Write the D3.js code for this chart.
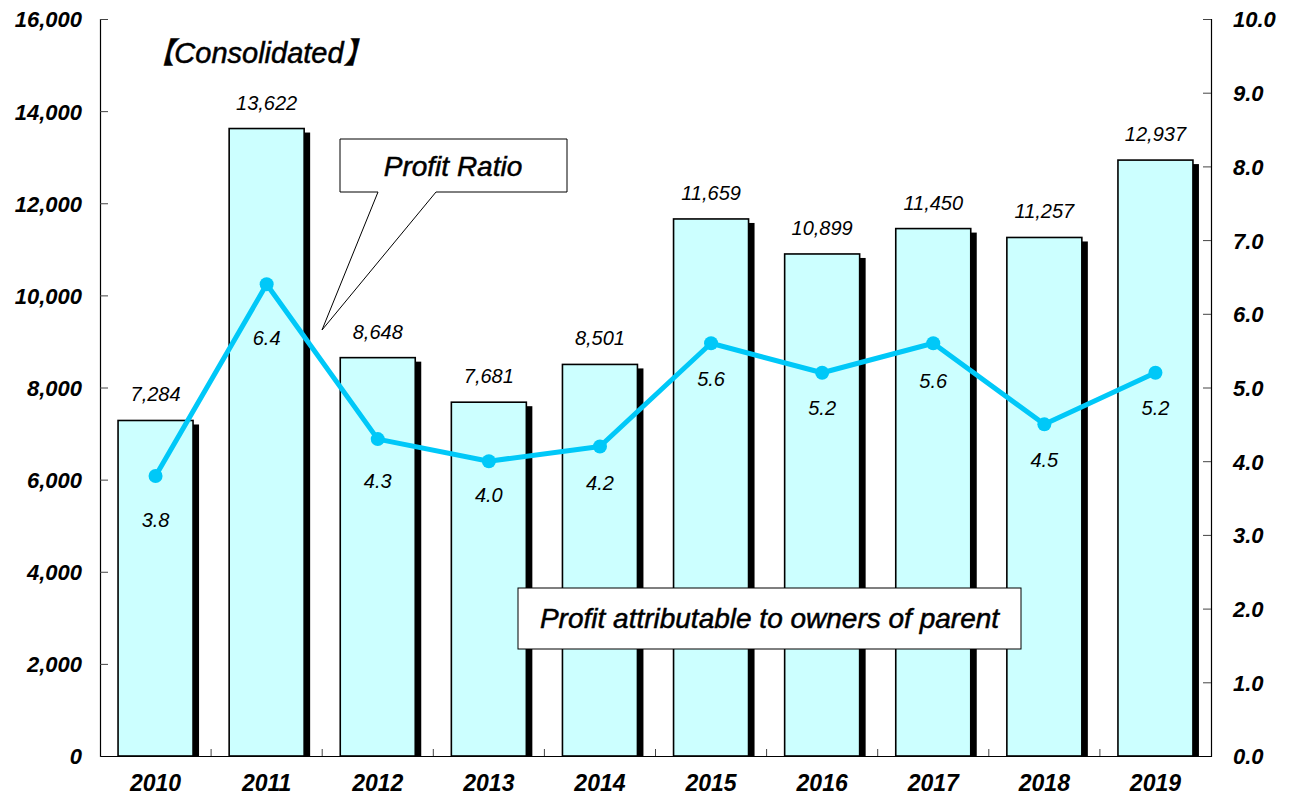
<!DOCTYPE html>
<html>
<head>
<meta charset="utf-8">
<script src="https://cdn.jsdelivr.net/npm/d3@7"></script>
<style>
  html, body { margin: 0; padding: 0; background: #fff; }
  svg { display: block; }
  text { font-family: "Liberation Sans", Arial, "Noto Sans CJK JP", sans-serif; }
</style>
</head>
<body>
<svg id="chart" width="1292" height="798"></svg>
<script>
// ---- data ----
const years = ["2010","2011","2012","2013","2014","2015","2016","2017","2018","2019"];
const profit = [7284, 13622, 8648, 7681, 8501, 11659, 10899, 11450, 11257, 12937];
const ratio = [3.8, 6.4, 4.3, 4.0, 4.2, 5.6, 5.2, 5.6, 4.5, 5.2];
const leftTicks = [0, 2000, 4000, 6000, 8000, 10000, 12000, 14000, 16000];
const rightTicks = [0, 1, 2, 3, 4, 5, 6, 7, 8, 9, 10];
const titleText = "【Consolidated】";
const ratioLegend = "Profit Ratio";
const profitLegend = "Profit attributable to owners of parent";

// label vertical shifts for ratio labels (px below point)
const ratioLabelShift = [44, 53, 42, 34, 36, 36, 35, 38, 35, 35];

const svg = d3.select("#chart");
const L = 100, R = 1211, T = 19, B = 756;

const x = d3.scaleBand().domain(years).range([L, R]).paddingInner(0).paddingOuter(0);
const yL = d3.scaleLinear().domain([0, 16000]).range([B, T]);
const yR = d3.scaleLinear().domain([0, 10]).range([B, T]);
const barW = x.bandwidth() * 0.675;
const fmt = d3.format(",");

// bars: shadows then bars
const g = svg.append("g");
g.selectAll("rect.shadow").data(profit).join("rect")
  .attr("class", "shadow")
  .attr("x", (d, i) => x(years[i]) + (x.bandwidth() - barW) / 2 + 6)
  .attr("y", d => yL(d) + 4)
  .attr("width", barW)
  .attr("height", d => B - yL(d) - 4)
  .attr("fill", "#000");
g.selectAll("rect.bar").data(profit).join("rect")
  .attr("class", "bar")
  .attr("x", (d, i) => x(years[i]) + (x.bandwidth() - barW) / 2)
  .attr("y", d => yL(d))
  .attr("width", barW)
  .attr("height", d => B - yL(d))
  .attr("fill", "#CCFFFF")
  .attr("stroke", "#000")
  .attr("stroke-width", 1.6);

// axes
const axL = d3.axisLeft(yL).tickValues(leftTicks).tickSize(-8).tickPadding(18)
  .tickFormat(d => fmt(d));
const gL = svg.append("g").attr("transform", `translate(${L},0)`).call(axL);
const axR = d3.axisRight(yR).tickValues(rightTicks).tickSize(-8).tickPadding(22)
  .tickFormat(d3.format(".1f"));
const gR = svg.append("g").attr("transform", `translate(${R},0)`).call(axR);
[gL, gR].forEach(gg => {
  gg.select(".domain").attr("stroke", "#000").attr("stroke-width", 1.2);
  gg.selectAll(".tick line").attr("stroke", "#444");
  gg.selectAll(".tick text")
    .attr("font-size", 22).attr("font-weight", "bold").attr("font-style", "italic")
    .attr("fill", "#000").attr("dy", "0.36em")
    .style("font-family", "'Liberation Sans', Arial, sans-serif");
});

// x axis
const axB = d3.axisBottom(x).tickSize(0).tickPadding(18);
const gB = svg.append("g").attr("transform", `translate(0,${B})`).call(axB);
gB.select(".domain").attr("stroke", "#000").attr("stroke-width", 1.2);
gB.selectAll(".tick text")
  .attr("font-size", 23).attr("font-weight", "bold").attr("font-style", "italic")
  .attr("fill", "#000").attr("dy", "0.72em")
  .style("font-family", "'Liberation Sans', Arial, sans-serif");
// category boundary ticks
svg.append("g").selectAll("line").data(years.slice(1)).join("line")
  .attr("x1", d => x(d)).attr("x2", d => x(d))
  .attr("y1", B).attr("y2", B - 7)
  .attr("stroke", "#444").attr("stroke-width", 1);

// value labels above bars
svg.append("g").selectAll("text").data(profit).join("text")
  .attr("x", (d, i) => x(years[i]) + x.bandwidth() / 2)
  .attr("y", d => yL(d) - 19)
  .attr("text-anchor", "middle")
  .attr("font-size", 20).attr("font-style", "italic")
  .attr("fill", "#000")
  .text(d => fmt(d));

// ratio line
const cx = (i) => x(years[i]) + x.bandwidth() / 2;
const line = d3.line().x((d, i) => cx(i)).y(d => yR(d));
svg.append("path").datum(ratio)
  .attr("d", line)
  .attr("fill", "none")
  .attr("stroke", "#00C8F8")
  .attr("stroke-width", 5)
  .attr("stroke-linejoin", "round");
svg.append("g").selectAll("circle").data(ratio).join("circle")
  .attr("cx", (d, i) => cx(i))
  .attr("cy", d => yR(d))
  .attr("r", 7)
  .attr("fill", "#00C8F8");

// ratio labels
svg.append("g").selectAll("text").data(ratio).join("text")
  .attr("x", (d, i) => cx(i))
  .attr("y", (d, i) => yR(d) + ratioLabelShift[i])
  .attr("dy", "0.36em")
  .attr("text-anchor", "middle")
  .attr("font-size", 20).attr("font-style", "italic")
  .attr("fill", "#000")
  .text(d => d3.format(".1f")(d));

// title
svg.append("text")
  .attr("x", 259).attr("y", 53).attr("dy", "0.36em")
  .attr("text-anchor", "middle")
  .attr("font-size", 29).attr("font-style", "italic")
  .attr("fill", "#000").attr("stroke", "#000").attr("stroke-width", 0.5)
  .text(titleText);

// callout: Profit Ratio
svg.append("path")
  .attr("d", "M340,139 H567 V192 H436 L322,330 L378,192 H340 Z")
  .attr("fill", "#fff").attr("stroke", "#000").attr("stroke-width", 1);
svg.append("text")
  .attr("x", 453).attr("y", 166).attr("dy", "0.36em")
  .attr("text-anchor", "middle")
  .attr("font-size", 28).attr("font-style", "italic")
  .attr("fill", "#000").attr("stroke", "#000").attr("stroke-width", 0.5)
  .text(ratioLegend);

// box: profit legend
svg.append("rect")
  .attr("x", 518).attr("y", 588).attr("width", 503).attr("height", 61)
  .attr("fill", "#fff").attr("stroke", "#000").attr("stroke-width", 1);
svg.append("text")
  .attr("x", 769.5).attr("y", 618).attr("dy", "0.36em")
  .attr("text-anchor", "middle")
  .attr("font-size", 28).attr("font-style", "italic")
  .attr("fill", "#000").attr("stroke", "#000").attr("stroke-width", 0.5)
  .text(profitLegend);
</script>
</body>
</html>
